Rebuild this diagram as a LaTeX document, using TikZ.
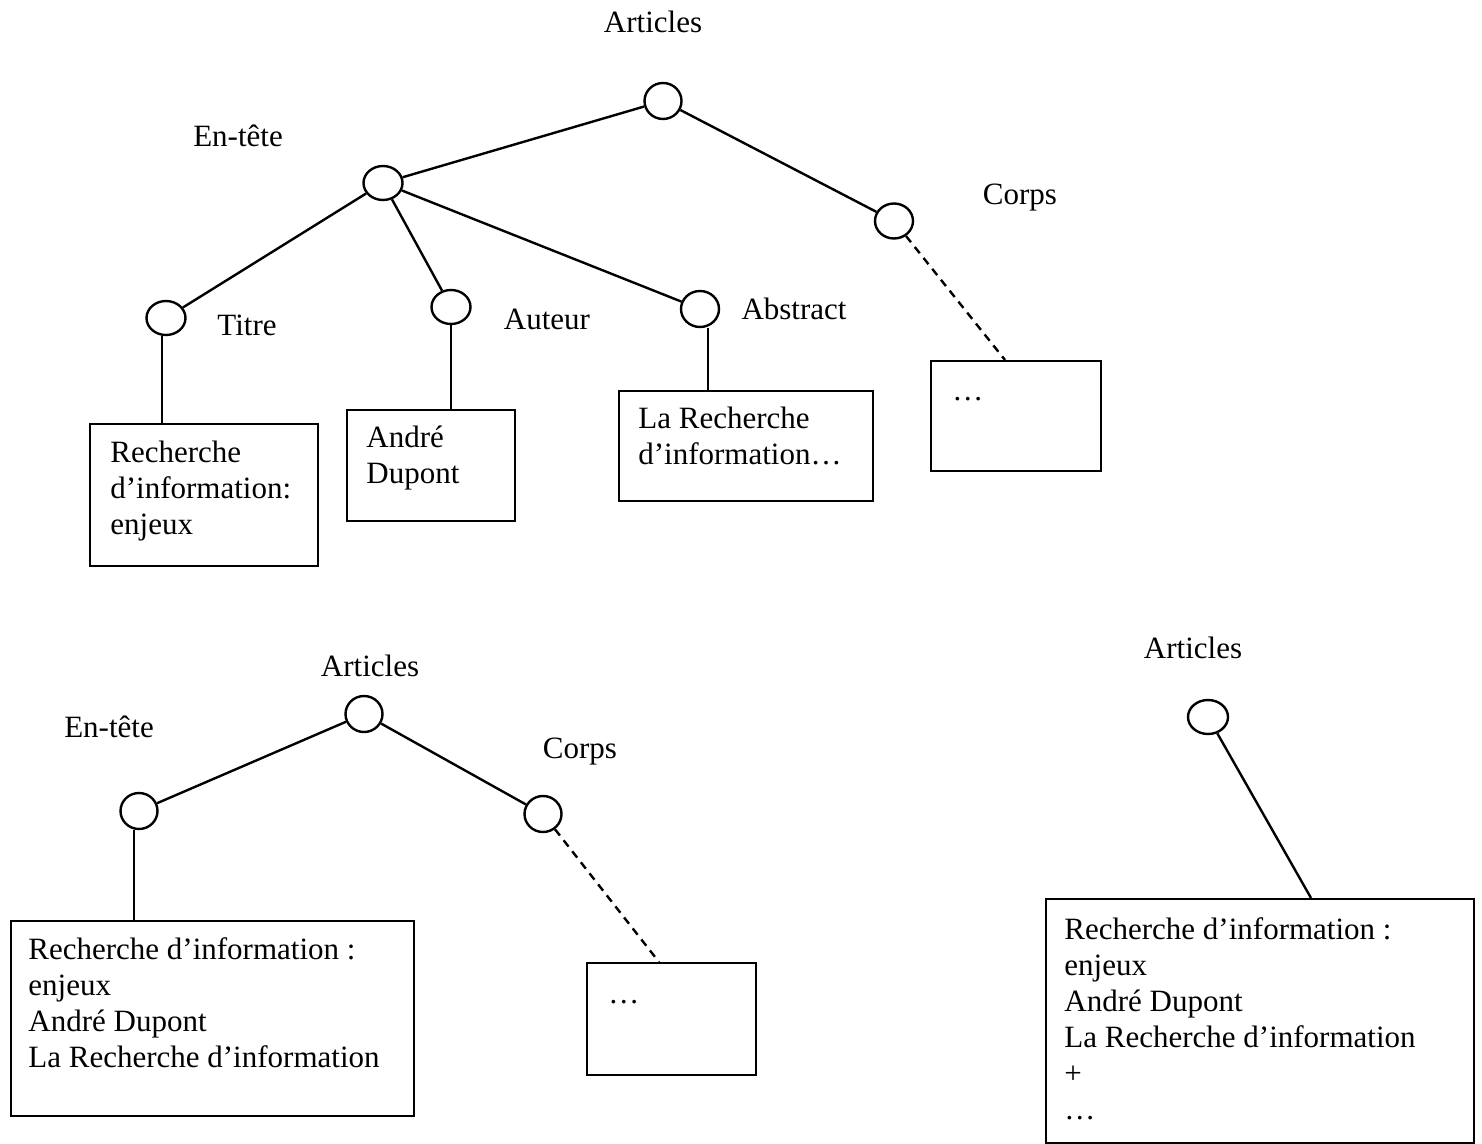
\documentclass[tikz,border=0pt]{standalone}
\usepackage{fontspec}
\setmainfont{Liberation Serif}
\usetikzlibrary{shapes.geometric}
\begin{document}
\begin{tikzpicture}[x=0.5pt,y=-0.5pt,
  every node/.style={font=\fontsize{15.5}{18}\selectfont},
  knot/.style={draw,ellipse,line width=1.2pt,minimum width=19.5pt,minimum height=17pt,inner sep=0pt},
  label text/.style={inner sep=0pt},
  leaf/.style={draw,line width=1.2pt,inner sep=0pt,anchor=north west},
  box text/.style={inner sep=0pt,anchor=north west,align=left},
  edge line/.style={line width=1.2pt},
  dash line/.style={line width=1.2pt,dash pattern=on 4pt off 3pt}]
\useasboundingbox (0,0) rectangle (1482,1144);

% ---------- upper tree ----------
\node[label text] (lA) at (653,22) {Articles};
\node[knot,minimum width=18.5pt,minimum height=18pt] (A) at (663,101) {};
\node[label text] (lE) at (238,136) {En-tête};
\node[knot] (E) at (383,183) {};
\node[label text] (lC) at (1020,198) {Corps};
\node[knot,minimum width=19pt,minimum height=17.5pt] (C) at (894,221) {};
\node[knot] (T) at (166,318) {};
\node[label text] (lT) at (247,325) {Titre};
\node[knot] (Au) at (451,307) {};
\node[label text] (lAu) at (547,319) {Auteur};
\node[knot,minimum width=19pt,minimum height=18pt] (Ab) at (700,309) {};
\node[label text] (lAb) at (794,309) {Abstract};

\node[leaf,minimum width=114pt,minimum height=71pt] (bT) at (89,423) {};
\node[box text] at (110,441) {Recherche\\d’information:\\enjeux};
\node[leaf,minimum width=84pt,minimum height=55.5pt] (bAu) at (346,409) {};
\node[box text] at (366,426) {André\\Dupont};
\node[leaf,minimum width=127pt,minimum height=55pt] (bAb) at (618,390) {};
\node[box text] at (638,407) {La Recherche\\d’information…};
\node[leaf,minimum width=85pt,minimum height=55pt] (bC) at (930,360) {};
\node[box text] at (952,397) {…};

\draw[edge line] (A) -- (E);
\draw[edge line] (A) -- (C);
\draw[edge line] (E) -- (T);
\draw[edge line] (E) -- (Au);
\draw[edge line] (E) -- (Ab);
\draw[edge line] (T.south) ++(-4,0) coordinate (tt) -- (tt |- bT.north);
\draw[edge line] (Au.south) -- (Au.south |- bAu.north);
\draw[edge line] (Ab.south) ++(8,0) coordinate (abs) -- (abs |- bAb.north);
\coordinate (cEnd) at (1005,360);
\draw[dash line] (C) -- (cEnd);

% ---------- lower left tree ----------
\node[label text] (mlA) at (370,666) {Articles};
\node[knot,minimum width=18.5pt,minimum height=18pt] (mA) at (364,714) {};
\node[label text] (mlE) at (109,727) {En-tête};
\node[knot,minimum width=18.5pt,minimum height=18pt] (mE) at (139,811) {};
\node[label text] (mlC) at (580,752) {Corps};
\node[knot,minimum width=18.5pt,minimum height=18pt] (mC) at (543,814) {};

\node[leaf,minimum width=201.5pt,minimum height=97.5pt] (mbE) at (10,920) {};
\node[box text] at (28,937) {Recherche d’information :\\enjeux\\André Dupont\\La Recherche d’information};
\node[leaf,minimum width=84.5pt,minimum height=56pt] (mbC) at (586,962) {};
\node[box text] at (608,1000) {…};

\draw[edge line] (mA) -- (mE);
\draw[edge line] (mA) -- (mC);
\draw[edge line] (mE.south) ++(-5,0) coordinate (me) -- (me |- mbE.north);
\coordinate (mcEnd) at (659,962);
\draw[dash line] (mC) -- (mcEnd);

% ---------- lower right tree ----------
\node[label text] (rlA) at (1193,648) {Articles};
\node[knot,minimum width=20pt,minimum height=17pt] (rA) at (1208,717) {};
\node[leaf,minimum width=214pt,minimum height=122pt] (rb) at (1045,898) {};
\node[box text] at (1064,917) {Recherche d’information :\\enjeux\\André Dupont\\La Recherche d’information\\+\\…};
\coordinate (rEnd) at (1311,898);
\draw[edge line] (rA) -- (rEnd);
\end{tikzpicture}
\end{document}
